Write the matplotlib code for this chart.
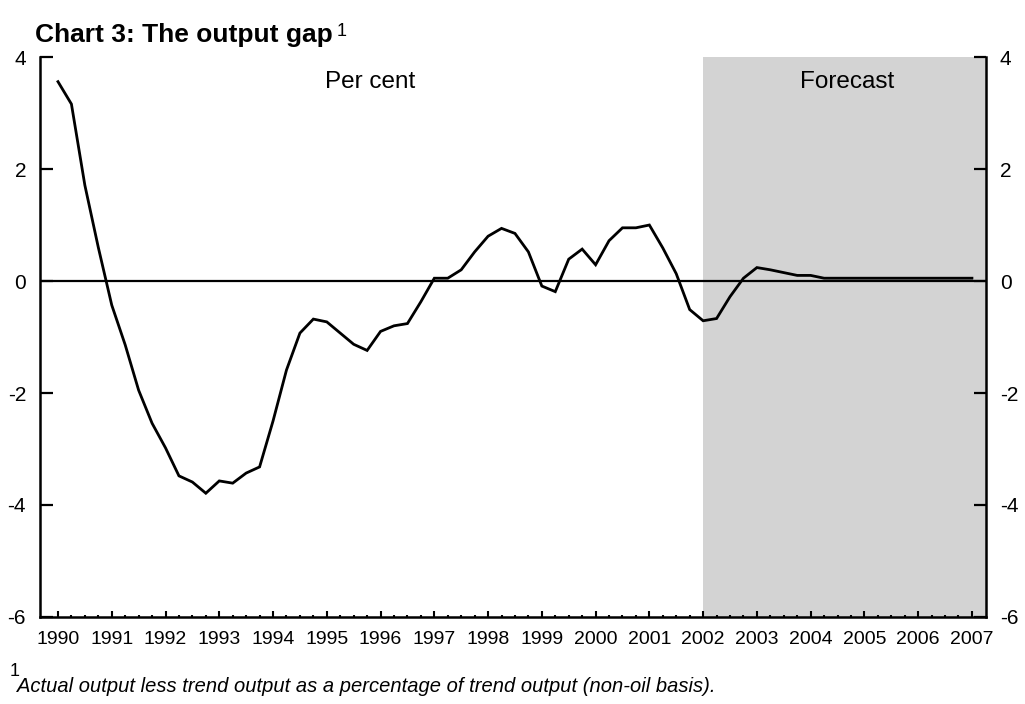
import matplotlib
matplotlib.use("Agg")
import matplotlib.pyplot as plt

plt.rcParams["font.family"] = ["Liberation Sans", "DejaVu Sans"]
plt.rcParams["axes.unicode_minus"] = False

# quarterly output gap, 1990Q1 - 2007Q1 (per cent)
output_gap = [
    3.56, 3.16, 1.71, 0.60,                # 1990
    -0.43, -1.14, -1.95, -2.54,            # 1991
    -2.98, -3.48, -3.59, -3.79,            # 1992
    -3.57, -3.61, -3.43, -3.32,            # 1993
    -2.50, -1.59, -0.93, -0.68,            # 1994
    -0.73, -0.93, -1.13, -1.24,            # 1995
    -0.90, -0.80, -0.76, -0.37,            # 1996
    0.05, 0.05, 0.20, 0.52,                # 1997
    0.80, 0.94, 0.85, 0.52,                # 1998
    -0.09, -0.19, 0.39, 0.57,              # 1999
    0.29, 0.72, 0.95, 0.95,                # 2000
    1.00, 0.59, 0.13, -0.51,               # 2001
    -0.71, -0.67, -0.28, 0.05,             # 2002
    0.24, 0.20, 0.15, 0.10,                # 2003
    0.10, 0.05, 0.05, 0.05,                # 2004
    0.05, 0.05, 0.05, 0.05,                # 2005
    0.05, 0.05, 0.05, 0.05,                # 2006
    0.05,                                  # 2007
]
years = list(range(1990, 2008))
forecast_start = 48  # 2002Q1
y_ticks = [-6, -4, -2, 0, 2, 4]

x = list(range(len(output_gap)))

fig = plt.figure(figsize=(10.25, 7.04), dpi=100)
ax = fig.add_axes([0.039, 0.1236, 0.923, 0.7954])

xmin, xmax = -1.34, 69.05
ax.axvspan(forecast_start, xmax, color="#d3d3d3", lw=0, zorder=0)
ax.axhline(0, color="black", lw=1.6, zorder=2)
ax.plot(x, output_gap, color="black", lw=2.0, zorder=3, solid_joinstyle="miter")

ax.set_xlim(xmin, xmax)
ax.set_ylim(-6, 4)

ax.set_xticks([4 * i for i in range(len(years))])
ax.set_xticklabels([str(y) for y in years])
ax.set_xticks(x, minor=True)
ax.tick_params(axis="x", which="major", direction="in", length=4.5, width=1.5,
               labelsize=14, pad=10)
ax.tick_params(axis="x", which="minor", direction="in", length=1.8, width=1.5)

ax.set_yticks(y_ticks)
ax.tick_params(axis="y", which="both", direction="in", length=9, width=1.6,
               labelsize=15, pad=10, right=True, labelright=True)

for side in ["left", "right", "bottom"]:
    ax.spines[side].set_linewidth(1.8)
ax.spines["top"].set_visible(False)

ax.text(0.349, 0.955, "Per cent", transform=ax.transAxes, ha="center", va="center",
        fontsize=17.5)
ax.text(0.853, 0.955, "Forecast", transform=ax.transAxes, ha="center", va="center",
        fontsize=17.5)

title = fig.text(35 / 1025, 1 - 42 / 704, "Chart 3: The output gap", fontsize=19,
                 fontweight="bold", va="baseline", ha="left")
fig.canvas.draw()
bb = title.get_window_extent()
fig.text((bb.x1 + 4) / 1025, 1 - 32 / 704, "1", fontsize=13, va="center", ha="left")

fig.text(10 / 1025, 1 - 671 / 704, "1", fontsize=13, va="center", ha="left")
fig.text(17 / 1025, 1 - 692 / 704,
         "Actual output less trend output as a percentage of trend output (non-oil basis).",
         fontsize=14.5, style="italic", va="baseline", ha="left")

fig.savefig("out.png", dpi=100)
